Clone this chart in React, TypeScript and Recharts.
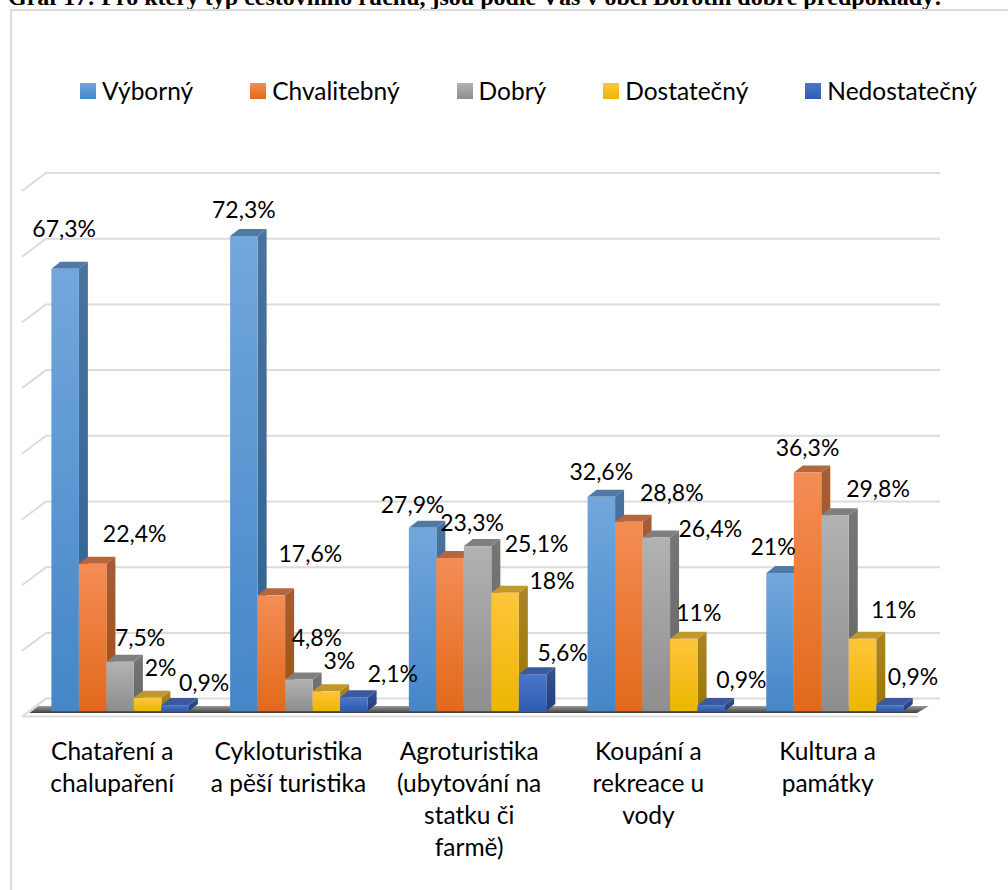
import { BarChart, Bar, XAxis, YAxis, CartesianGrid, Legend, LabelList } from 'recharts'

const categories = ['Chataření a chalupaření', 'Cykloturistika a pěší turistika', 'Agroturistika (ubytování na statku či farmě)', 'Koupání a rekreace u vody', 'Kultura a památky']
const categoryLines = [
  ['Chataření a', 'chalupaření'],
  ['Cykloturistika', 'a pěší turistika'],
  ['Agroturistika', '(ubytování na', 'statku či', 'farmě)'],
  ['Koupání a', 'rekreace u', 'vody'],
  ['Kultura a', 'památky'],
]

const vyborny = [67.3, 72.3, 27.9, 32.6, 21]
const chvalitebny = [22.4, 17.6, 23.3, 28.8, 36.3]
const dobry = [7.5, 4.8, 25.1, 26.4, 29.8]
const dostatecny = [2, 3, 18, 11, 11]
const nedostatecny = [0.9, 2.1, 5.6, 0.9, 0.9]
const yTicks = [0, 10, 20, 30, 40, 50, 60, 70, 80]

const chartData = categories.map((name, i) => ({
  name,
  vyborny: vyborny[i],
  chvalitebny: chvalitebny[i],
  dobry: dobry[i],
  dostatecny: dostatecny[i],
  nedostatecny: nedostatecny[i],
}))

const FONT = 'Lato, sans-serif'
const LABEL_SIZE = 23
const TEXT_SIZE = 24.5
const DEPTH_X = 9
const DEPTH_Y = 7

// hand placed labels, the original moves them around per bar
const labelNudges: Record<string, number[][]> = {
  vyborny: [[-1, -41], [0, -27], [-10, -24], [0, -26], [-7, -27]],
  chvalitebny: [[42, -31], [39, -42], [22, -36], [43, -30], [0, -26]],
  dobry: [[20, -25], [18, -42], [59, -3], [54, -10], [43, -27]],
  dostatecny: [[13, -31], [13, -31], [47, -13], [15, -27], [31, -30]],
  nedostatecny: [[29, -23], [39, -24], [30, -22], [30, -26], [23, -29]],
}
const tickNudges = [-7.5, -10, -8, -7.5, -7]

const seriesList = [
  { key: 'vyborny', name: 'Výborný', values: ['#72a7dc', '#4486c8', '#507aa5', '#4a739e', '#2f618f'] },
  { key: 'chvalitebny', name: 'Chvalitebný', values: ['#f48d55', '#e2691a', '#b5673c', '#a65c35', '#a3500f'] },
  { key: 'dobry', name: 'Dobrý', values: ['#b2b2b2', '#8e8e8e', '#7f7f7f', '#767676', '#666666'] },
  { key: 'dostatecny', name: 'Dostatečný', values: ['#ffc53d', '#ebb700', '#c1982e', '#ab8528', '#997700'] },
  { key: 'nedostatecny', name: 'Nedostatečný', values: ['#4a75c9', '#2e5cb4', '#3b5a9e', '#33518f', '#22407f'] },
]

const Bar3D = (props: any) => {
  const { x, y, width, height, seriesKey } = props
  const right = x + width
  const bottom = y + height
  return (
    <g>
      <polygon points={`${right},${y} ${right + DEPTH_X},${y - DEPTH_Y} ${right + DEPTH_X},${bottom - DEPTH_Y} ${right},${bottom}`} fill={`url(#side-${seriesKey})`} />
      <polygon points={`${x},${y} ${x + DEPTH_X},${y - DEPTH_Y} ${right + DEPTH_X},${y - DEPTH_Y} ${right},${y}`} fill={`url(#top-${seriesKey})`} />
      <rect x={x} y={y} width={width} height={height} fill={`url(#front-${seriesKey})`} />
    </g>
  )
}

const GridLine = (props: any) => {
  const { x1, x2, y1 } = props
  const back = y1 - 12.4
  const isFloor = Math.abs(y1 - 711) < 1
  return (
    <g key={`grid-${y1}`}>
      <polyline points={`${x1 - 8.4},${back + 18} ${x1 + 15.6},${back} ${x2 + 16},${back}`} fill="none" stroke="#dcdcdc" strokeWidth={2} />
      {isFloor && (
        <>
          <line x1={x1 - 8.4} x2={x2 - 6} y1={716.5} y2={716.5} stroke="#dcdcdc" strokeWidth={2} />
          <polygon points={`${x1 - 1},${y1 + 2} ${x1 + 8},${y1 - 5} ${x2 + 5},${y1 - 5} ${x2 - 7},${y1 + 2}`} fill="url(#floor-shadow)" />
        </>
      )}
    </g>
  )
}

const CategoryTick = (props: any) => {
  const { x, payload, index } = props
  const lines = categoryLines[payload?.index ?? index]
  const nudge = tickNudges[payload?.index ?? index]
  return (
    <text x={x + nudge} textAnchor="middle" fontFamily={FONT} fontSize={TEXT_SIZE} fill="#000">
      {lines.map((line, i) => (
        <tspan key={line} x={x + nudge} y={760 + i * 32}>{line}</tspan>
      ))}
    </text>
  )
}

const makeLabel = (seriesKey: string) => (props: any) => {
  const { x, y, width, value, index } = props
  const [dx, dy] = labelNudges[seriesKey][index]
  return (
    <text x={x + width / 2 + dx} y={y + dy} textAnchor="middle" dominantBaseline="central" fontFamily={FONT} fontSize={LABEL_SIZE} fill="#000">
      {`${String(value).replace('.', ',')}%`}
    </text>
  )
}

const LegendContent = () => (
  <div style={{ display: 'flex', gap: 57, fontFamily: FONT, fontSize: TEXT_SIZE, color: '#000', lineHeight: '30px' }}>
    {seriesList.map((s) => (
      <div key={s.key} style={{ display: 'flex', alignItems: 'center', gap: 6 }}>
        <span style={{ display: 'inline-block', width: 16, height: 16, background: `linear-gradient(${s.values[0]}, ${s.values[1]})` }} />
        <span>{s.name}</span>
      </div>
    ))}
  </div>
)

export default function App() {
  return (
    <div style={{ position: 'absolute', left: 0, top: 0, width: 1008, height: 890, overflow: 'hidden', background: '#fff' }}>
      <div style={{ position: 'absolute', left: 8, top: -16, whiteSpace: 'nowrap', fontFamily: '"Liberation Serif", serif', fontWeight: 'bold', fontSize: 24, lineHeight: '26px', color: '#000' }}>
        Graf 17: Pro který typ cestovního ruchu, jsou podle Vás v obci Borotín dobré předpoklady:
      </div>
      <div style={{ position: 'absolute', left: 10, top: 9, width: 998, height: 881, borderLeft: '2px solid #dcdcdc', borderTop: '2px solid #dcdcdc', boxSizing: 'border-box' }} />
      <div style={{ position: 'absolute', left: 0, top: 0 }}>
        <BarChart
          width={1008}
          height={890}
          data={chartData}
          barSize={27.5}
          barGap={0}
          margin={{ top: 185.4, right: 84, bottom: 149, left: 30.4 }}
        >
          <defs>
            {seriesList.map((s) => (
              <g key={s.key}>
                <linearGradient id={`front-${s.key}`} x1="0" y1="0" x2="0" y2="1">
                  <stop offset="0%" stopColor={s.values[0]} />
                  <stop offset="100%" stopColor={s.values[1]} />
                </linearGradient>
                <linearGradient id={`side-${s.key}`} x1="0" y1="0" x2="0" y2="1">
                  <stop offset="0%" stopColor={s.values[3]} />
                  <stop offset="100%" stopColor={s.values[4]} />
                </linearGradient>
                <linearGradient id={`top-${s.key}`} x1="0" y1="0" x2="0" y2="1">
                  <stop offset="0%" stopColor={s.values[2]} />
                  <stop offset="100%" stopColor={s.values[2]} />
                </linearGradient>
              </g>
            ))}
            <linearGradient id="floor-shadow" x1="0" y1="0" x2="0" y2="1">
              <stop offset="0%" stopColor="#9a9a9a" />
              <stop offset="100%" stopColor="#3f3f3f" />
            </linearGradient>
          </defs>
          <CartesianGrid vertical={false} horizontal={GridLine} />
          <XAxis dataKey="name" height={30} axisLine={false} tickLine={false} tick={CategoryTick} interval={0} />
          <YAxis hide domain={[0, 80]} ticks={yTicks} />
          <Legend
            layout="horizontal"
            verticalAlign="middle"
            align="center"
            content={LegendContent}
            wrapperStyle={{ left: 80, top: 76, width: 920 }}
          />
          {seriesList.map((s) => (
            <Bar
              key={s.key}
              dataKey={s.key}
              name={s.name}
              isAnimationActive={false}
              shape={(p: any) => <Bar3D {...p} seriesKey={s.key} />}
            >
              <LabelList dataKey={s.key} content={makeLabel(s.key)} />
            </Bar>
          ))}
        </BarChart>
      </div>
    </div>
  )
}
